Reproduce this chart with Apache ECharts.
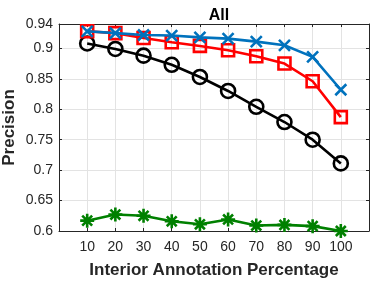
<!DOCTYPE html>
<html><head><meta charset="utf-8">
<script src="https://cdn.jsdelivr.net/npm/echarts@6/dist/echarts.min.js"></script>
<style>html,body{margin:0;padding:0;background:#fff}#c{width:374px;height:282px}</style>
</head><body><div id="c"></div>
<script>
const categories = [10, 20, 30, 40, 50, 60, 70, 80, 90, 100];
const blueVals  = [0.928, 0.925, 0.922, 0.921, 0.918, 0.916, 0.911, 0.905, 0.886, 0.832];
const redVals   = [0.928, 0.925, 0.917, 0.910, 0.904, 0.897, 0.887, 0.875, 0.846, 0.787];
const blackVals = [0.908, 0.899, 0.888, 0.873, 0.853, 0.830, 0.804, 0.779, 0.750, 0.711];
const greenVals = [0.617, 0.627, 0.625, 0.616, 0.611, 0.619, 0.609, 0.610, 0.608, 0.600];
const yTicks = [0.6, 0.65, 0.7, 0.75, 0.8, 0.85, 0.9, 0.94];

const font = 'Liberation Sans, Arial, Helvetica, sans-serif';
const axisCol = '#262626';
const pair = v => categories.map((c, i) => [c, v[i]]);

const xPath = 'path://M0,0L10,10M10,0L0,10';
const starPath = 'path://M5,0L5,10M0,5L10,5M1.46,1.46L8.54,8.54M8.54,1.46L1.46,8.54';

function series(name, vals, color, symbol, size, z) {
  return {
    name, type: 'line', data: pair(vals), z,
    xAxisIndex: 0, yAxisIndex: 0,
    symbol, symbolSize: size, showAllSymbol: true,
    lineStyle: { color, width: 2.6 },
    itemStyle: { color: 'none', borderColor: color, borderWidth: 2.6, opacity: 1 },
    emphasis: { disabled: true },
    animation: false
  };
}

const chart = echarts.init(document.getElementById('c'), null, { renderer: 'canvas' });
chart.setOption({
  animation: false,
  title: {
    text: 'All', left: 214, top: 3, textAlign: 'center',
    textStyle: { fontFamily: font, fontSize: 16, fontWeight: 'bold', color: '#000' }
  },
  grid: { left: 59, right: 5, top: 24, bottom: 51, containLabel: false, outerBoundsMode: 'none' },
  xAxis: [{
    type: 'value', min: 0, max: 110, interval: 10,
    name: 'Interior Annotation Percentage', nameLocation: 'middle', nameGap: 31,
    nameMoveOverlap: false,
    nameTextStyle: { fontFamily: font, fontSize: 17, fontWeight: 'bold', color: axisCol },
    axisLine: { show: true, lineStyle: { color: axisCol, width: 1 } },
    axisTick: { show: true, inside: true, length: 3, lineStyle: { color: axisCol } },
    axisLabel: {
      fontFamily: font, fontSize: 14, color: axisCol, margin: 9,
      formatter: v => (v === 0 || v === 110) ? '' : String(v)
    },
    splitLine: { show: true, lineStyle: { color: '#e3e3e3', width: 1 } }
  }, {
    type: 'value', min: 0, max: 110, interval: 10, position: 'top',
    axisLine: { show: true, onZero: false, lineStyle: { color: axisCol, width: 1 } },
    axisTick: { show: true, inside: true, length: 3, lineStyle: { color: axisCol } },
    axisLabel: { show: false }, splitLine: { show: false }
  }],
  yAxis: [{
    type: 'value', min: 0.6, max: 0.94, interval: 0.05,
    name: 'Precision', nameLocation: 'middle', nameGap: 41, nameRotate: 90,
    nameMoveOverlap: false,
    nameTextStyle: { fontFamily: font, fontSize: 17, fontWeight: 'bold', color: axisCol },
    axisLine: { show: true, lineStyle: { color: axisCol, width: 1 } },
    axisTick: { show: true, inside: true, length: 3, lineStyle: { color: axisCol } },
    axisLabel: {
      fontFamily: font, fontSize: 14, color: axisCol, margin: 6,
      showMinLabel: true, showMaxLabel: true,
      formatter: v => String(+v.toFixed(2))
    },
    splitLine: { show: true, lineStyle: { color: '#e3e3e3', width: 1 } }
  }, {
    type: 'value', min: 0.6, max: 0.94, interval: 0.05, position: 'right',
    axisLine: { show: true, onZero: false, lineStyle: { color: axisCol, width: 1 } },
    axisTick: { show: true, inside: true, length: 3, lineStyle: { color: axisCol } },
    axisLabel: { show: false }, splitLine: { show: false }
  }],
  series: [
    series('green', greenVals, '#008000', starPath, 14, 2),
    series('black', blackVals, '#000000', 'circle', 14, 3),
    series('red', redVals, '#ff0000', 'rect', 12, 4),
    series('blue', blueVals, '#0072bd', xPath, 11, 5)
  ]
});
</script></body></html>
